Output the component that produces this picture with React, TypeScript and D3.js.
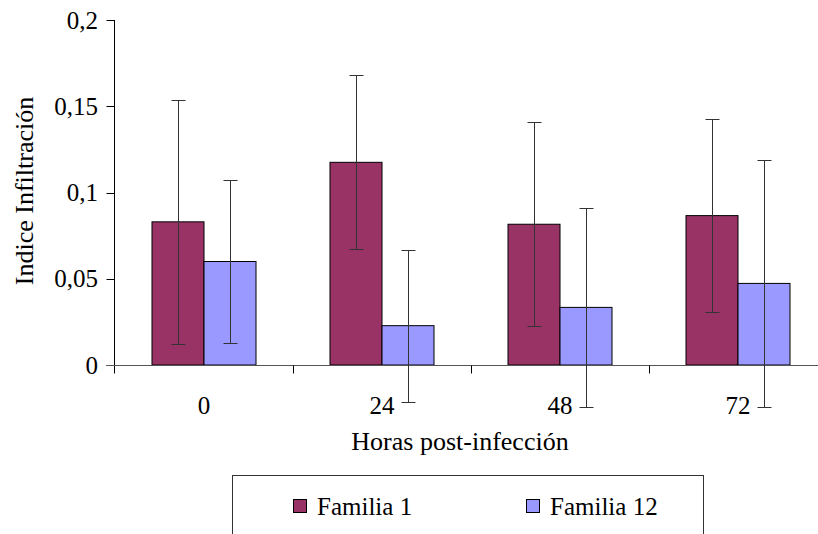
import React from "react";
import * as d3 from "d3";

const categories = ["0", "24", "48", "72"];
const seriesNames = ["Familia 1", "Familia 12"];
const familia1 = [0.083, 0.1175, 0.0816, 0.0866];
const familia1Err = [0.0707, 0.0505, 0.059, 0.056];
const familia12 = [0.06, 0.0228, 0.0334, 0.0473];
const familia12Err = [0.0475, 0.044, 0.0575, 0.0715];
const yTicks = [0, 0.05, 0.1, 0.15, 0.2];
const yTickLabels = ["0", "0,05", "0,1", "0,15", "0,2"];
const colors = ["#993366", "#9999FF"];

const W = 818;
const H = 534;
const FF = '"Liberation Serif", "Times New Roman", Times, serif';
const TICK: React.CSSProperties = { fontFamily: FF, fontSize: "25px" };
const TITLE: React.CSSProperties = { fontFamily: FF, fontSize: "26px" };
const LEG: React.CSSProperties = { fontFamily: FF, fontSize: "25px" };

export default function App() {
  const x = d3.scaleBand<string>().domain(categories).range([115, 827]).paddingInner(0).paddingOuter(0);
  const xs = d3.scaleBand<string>().domain(seriesNames).range([37, 141]);
  const y = d3.scaleLinear().domain([0, 0.2]).range([365, 20]);

  const values = [familia1, familia12];
  const errs = [familia1Err, familia12Err];

  const bars: React.ReactNode[] = [];
  const errBars: React.ReactNode[] = [];
  categories.forEach((c, i) => {
    seriesNames.forEach((s, si) => {
      const v = values[si][i];
      const e = errs[si][i];
      const bx = (x(c) as number) + (xs(s) as number);
      const bw = xs.bandwidth();
      bars.push(
        <rect key={`b${i}-${si}`} x={bx} y={y(v)} width={bw} height={y(0) - y(v)}
          fill={colors[si]} stroke="#000" strokeWidth={1} />
      );
      const cx = Math.round(bx + bw / 2) + 0.5;
      const yt = Math.round(y(v + e)) + 0.5;
      const yb = Math.round(y(v - e)) + 0.5;
      errBars.push(
        <g key={`e${i}-${si}`} stroke="#333" strokeWidth={1}>
          <line x1={cx} x2={cx} y1={yt} y2={yb} />
          <line x1={cx - 7} x2={cx + 7} y1={yt} y2={yt} />
          <line x1={cx - 7} x2={cx + 7} y1={yb} y2={yb} />
        </g>
      );
    });
  });

  const y0 = Math.round(y(0)) + 0.5;
  const axX = 114.5;

  return (
    <svg width={W} height={H} style={{ position: "absolute", left: 0, top: 0, background: "#fff" }}>
      <rect x={0} y={0} width={W} height={H} fill="#fff" />
      {bars}
      {/* y axis */}
      <line x1={axX} x2={axX} y1={y(0.2)} y2={y0 + 8} stroke="#000" />
      {yTicks.map((t, i) => (
        <g key={`yt${i}`}>
          <line x1={axX - 8} x2={axX} y1={Math.round(y(t)) + 0.5} y2={Math.round(y(t)) + 0.5} stroke="#000" />
          <text x={98} y={y(t) + 8.5} style={TICK} textAnchor="end" fill="#000">{yTickLabels[i]}</text>
        </g>
      ))}
      {/* x axis */}
      <line x1={axX - 8} x2={W} y1={y0} y2={y0} stroke="#555" />
      {categories.slice(1).map((c) => (
        <line key={`xt${c}`} x1={Math.round(x(c) as number) + 0.5} x2={Math.round(x(c) as number) + 0.5}
          y1={y0} y2={y0 + 8} stroke="#000" />
      ))}
      {categories.map((c) => (
        <text key={`xl${c}`} x={(x(c) as number) + x.bandwidth() / 2} y={414} style={TICK}
          textAnchor="middle" fill="#000">{c}</text>
      ))}
      {errBars}
      <text x={460} y={450} style={TITLE} textAnchor="middle" fill="#000">Horas post-infección</text>
      <text transform={`translate(33,191) rotate(-90)`} style={TITLE} textAnchor="middle" fill="#000">
        Indice Infiltración
      </text>
      {/* legend */}
      <rect x={232.5} y={475.5} width={471} height={80} fill="#fff" stroke="#333" />
      {seriesNames.map((s, si) => {
        const lx = si === 0 ? 293 : 526;
        return (
          <g key={`lg${si}`}>
            <rect x={lx + 0.5} y={499.5} width={13} height={13} fill={colors[si]} stroke="#000" />
            <text x={lx + 24} y={515} style={LEG} fill="#000">{s}</text>
          </g>
        );
      })}
    </svg>
  );
}
